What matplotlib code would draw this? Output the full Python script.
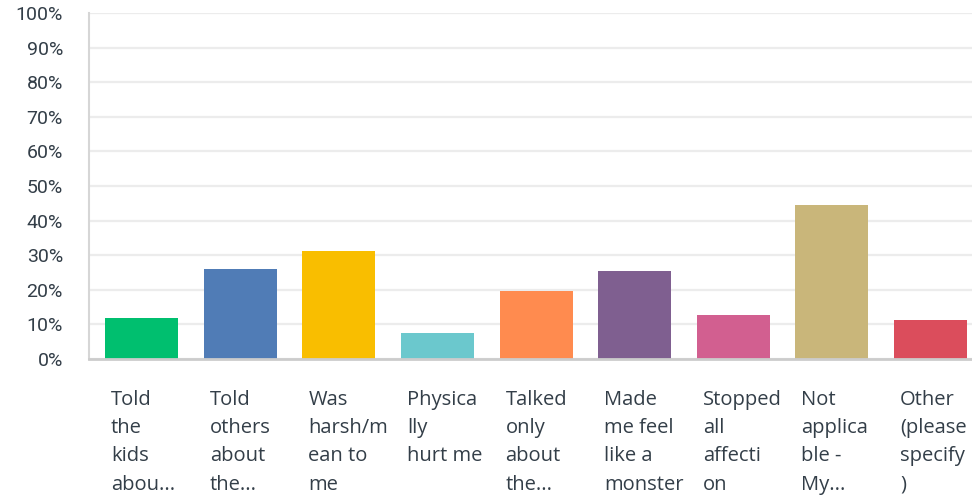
import matplotlib.pyplot as plt
from matplotlib.transforms import blended_transform_factory

# answer choices (wrapped the way the survey tool shows them)
labels = ['Told\nthe\nkids\nabou...', 'Told\nothers\nabout\nthe...', 'Was\nharsh/m\nean to\nme',
          'Physica\nlly\nhurt me', 'Talked\nonly\nabout\nthe...', 'Made\nme feel\nlike a\nmonster',
          'Stopped\nall\naffecti\non', 'Not\napplica\nble -\nMy...', 'Other\n(please\nspecify\n)']
percents = [11.9, 26.0, 31.2, 7.5, 19.7, 25.5, 12.7, 44.6, 11.3]
colors = ['#00bf6f', '#507cb6', '#f9be00', '#6bc8cd', '#ff8b4f', '#7f5f90', '#d25f90', '#c9b67a', '#db4d5c']
yticks = list(range(0, 101, 10))

plt.rcParams['font.family'] = ['Open Sans', 'DejaVu Sans']
text_color = '#333e48'

fig = plt.figure(figsize=(9.72, 4.96), dpi=100)
ax = fig.add_axes([0.0919, 0.276, 0.9081, 0.698])

x = list(range(len(percents)))
bar_w = 0.74
ax.bar(x, percents, width=bar_w, color=colors, zorder=3)

ax.set_ylim(0, 100)
ax.set_xlim(-0.53, 8.42)
ax.set_yticks(yticks)
ax.set_yticklabels([f'{t}%' for t in yticks], fontsize=14, color=text_color, family='Roboto')
ax.tick_params(axis='y', length=0, pad=19)
ax.set_xticks([])
ax.grid(axis='y', color='#ececec', linewidth=1.6, zorder=0)

for s in ['top', 'right']:
    ax.spines[s].set_visible(False)
ax.spines['left'].set_color('#d6d6d6')
ax.spines['left'].set_linewidth(1.5)
ax.spines['bottom'].set_color('#cccccc')
ax.spines['bottom'].set_linewidth(2)
ax.spines['bottom'].set_zorder(4)

# category labels, left aligned under each bar
trans = blended_transform_factory(ax.transData, ax.transAxes)
for i, lab in enumerate(labels):
    ax.text(i - bar_w / 2 + 0.06, -0.088, lab, transform=trans, ha='left', va='top',
            fontsize=14.5, color=text_color, linespacing=1.56)

fig.savefig('out.png', dpi=100)
